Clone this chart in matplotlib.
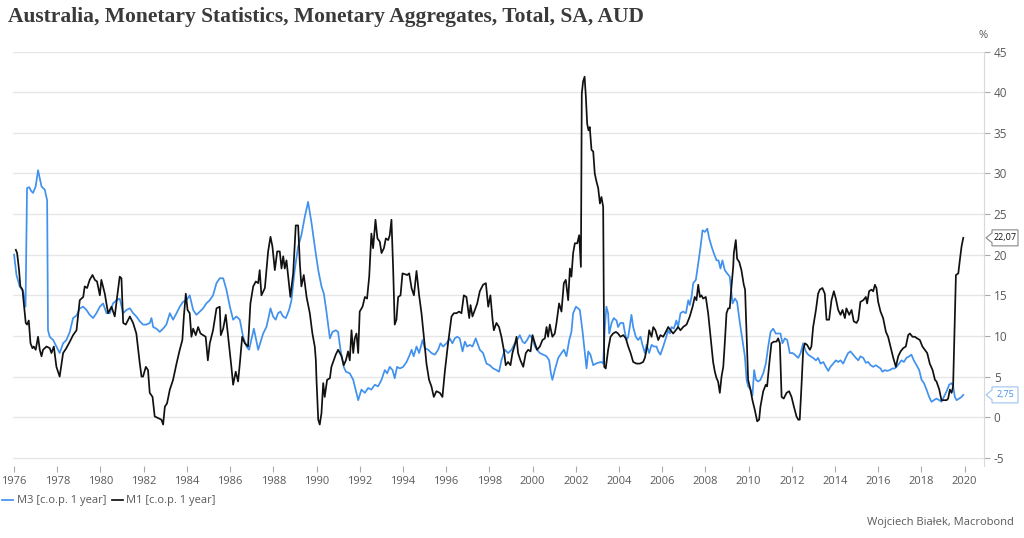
import matplotlib
matplotlib.use("Agg")
import matplotlib.pyplot as plt
from matplotlib.patches import Polygon
from matplotlib.transforms import blended_transform_factory

title = "Australia, Monetary Statistics, Monetary Aggregates, Total, SA, AUD"
m3_label = "M3 [c.o.p. 1 year]"
m1_label = "M1 [c.o.p. 1 year]"
credit = "Wojciech Białek, Macrobond"

m3_t = [1976.00, 1976.11, 1976.26, 1976.42, 1976.53, 1976.60, 1976.70, 1976.80, 1976.88, 1977.00,
        1977.11, 1977.27, 1977.42, 1977.53, 1977.57, 1977.65, 1977.81, 1977.96, 1978.11, 1978.27,
        1978.42, 1978.58, 1978.73, 1978.89, 1979.04, 1979.20, 1979.35, 1979.50, 1979.66, 1979.81,
        1979.97, 1980.12, 1980.28, 1980.43, 1980.58, 1980.74, 1980.89, 1981.05, 1981.20, 1981.36,
        1981.51, 1981.66, 1981.82, 1981.97, 1982.13, 1982.28, 1982.36, 1982.44, 1982.59, 1982.74,
        1982.90, 1983.05, 1983.21, 1983.36, 1983.52, 1983.67, 1983.82, 1983.98, 1984.13, 1984.29,
        1984.44, 1984.60, 1984.75, 1984.90, 1985.06, 1985.21, 1985.37, 1985.52, 1985.68, 1985.83,
        1985.99, 1986.14, 1986.29, 1986.45, 1986.60, 1986.76, 1986.88,
        1987.10, 1987.30, 1987.53, 1987.68, 1987.76, 1987.87, 1987.99, 1988.11, 1988.22, 1988.33,
        1988.45, 1988.58, 1988.73, 1988.84, 1988.99, 1989.15, 1989.30, 1989.46, 1989.61, 1989.77,
        1989.92, 1990.08, 1990.23, 1990.34, 1990.46, 1990.62, 1990.74, 1990.89, 1991.00, 1991.11,
        1991.26, 1991.36, 1991.54, 1991.70, 1991.85, 1991.93, 1992.08, 1992.24, 1992.39, 1992.54,
        1992.70, 1992.85, 1993.01, 1993.16, 1993.27, 1993.39, 1993.52, 1993.62, 1993.73, 1993.86,
        1994.01, 1994.17, 1994.32, 1994.40, 1994.50, 1994.63, 1994.75, 1994.91, 1995.01, 1995.17,
        1995.32, 1995.48, 1995.63, 1995.74, 1995.86, 1996.02, 1996.17, 1996.29, 1996.40, 1996.51,
        1996.63, 1996.76, 1996.87, 1996.97, 1997.10, 1997.22, 1997.37, 1997.56, 1997.71, 1997.87,
        1998.02, 1998.18, 1998.33, 1998.45, 1998.56, 1998.72, 1998.87, 1999.03, 1999.18, 1999.33,
        1999.41, 1999.54, 1999.64, 1999.75, 1999.87, 2000.00, 2000.11, 2000.21, 2000.34, 2000.49,
        2000.65, 2000.77, 2000.85, 2000.92, 2001.03, 2001.19, 2001.34, 2001.45, 2001.57, 2001.70,
        2001.80, 2001.88, 2002.01, 2002.11, 2002.19, 2002.31, 2002.39, 2002.50, 2002.58, 2002.68,
        2002.81, 2002.93, 2003.04, 2003.19, 2003.27, 2003.35, 2003.42, 2003.50, 2003.55, 2003.66,
        2003.76, 2003.89, 2003.96, 2004.07, 2004.20, 2004.27, 2004.35, 2004.43, 2004.50, 2004.58,
        2004.66, 2004.78, 2004.89, 2005.00, 2005.09, 2005.20, 2005.28, 2005.40, 2005.51, 2005.62,
        2005.74, 2005.82, 2005.92, 2006.05, 2006.17, 2006.28, 2006.36, 2006.43, 2006.54, 2006.66,
        2006.74, 2006.85, 2006.97, 2007.10, 2007.21, 2007.28, 2007.36, 2007.44, 2007.56, 2007.67,
        2007.78, 2007.87, 2007.98, 2008.09, 2008.18, 2008.29, 2008.39, 2008.52, 2008.61, 2008.70,
        2008.79, 2008.90, 2009.01, 2009.13, 2009.26, 2009.37, 2009.47, 2009.60, 2009.72, 2009.83,
        2009.91, 2009.98, 2010.09, 2010.18, 2010.26, 2010.34, 2010.45, 2010.55, 2010.68, 2010.80,
        2010.91, 2011.02, 2011.14, 2011.26, 2011.37, 2011.48, 2011.57, 2011.68, 2011.79, 2011.91,
        2012.04, 2012.14, 2012.30, 2012.41, 2012.53, 2012.65, 2012.76, 2012.87, 2012.99, 2013.12,
        2013.22, 2013.33, 2013.46, 2013.58, 2013.69, 2013.79, 2013.92, 2014.04, 2014.15, 2014.26,
        2014.38, 2014.50, 2014.61, 2014.72, 2014.84, 2014.97, 2015.08, 2015.18, 2015.31, 2015.43,
        2015.54, 2015.65, 2015.77, 2015.89, 2016.00, 2016.11, 2016.20, 2016.31, 2016.42, 2016.54,
        2016.66, 2016.77, 2016.85, 2016.97, 2017.08, 2017.19, 2017.31, 2017.44, 2017.54, 2017.65,
        2017.78, 2017.90, 2018.01, 2018.12, 2018.24, 2018.36, 2018.47, 2018.58, 2018.70, 2018.83,
        2018.93, 2019.04, 2019.17, 2019.29, 2019.40, 2019.47, 2019.55, 2019.63, 2019.75, 2019.86,
        2019.94]
m3_v = [20.0, 17.5, 16.1, 15.5, 13.6, 28.2, 28.3, 27.8, 27.6, 28.4,
        30.4, 28.4, 28.0, 26.7, 10.7, 9.9, 9.5, 8.7, 7.9, 9.1,
        9.5, 10.5, 12.2, 12.5, 13.4, 13.6, 13.2, 12.6, 12.2, 12.8,
        13.6, 14.0, 12.8, 12.8, 14.0, 14.4, 14.6, 12.8, 13.2, 13.4,
        12.8, 12.4, 11.8, 11.4, 11.4, 11.6, 12.2, 11.1, 10.9, 10.5,
        10.9, 11.4, 12.8, 12.0, 12.8, 13.6, 14.2, 14.4, 15.0, 13.2,
        12.6, 13.0, 13.4, 14.0, 14.4, 15.0, 16.5, 17.1, 17.1, 15.7,
        13.6, 12.0, 12.4, 12.0, 9.9, 8.7, 8.3,
        10.9, 8.3, 10.3, 11.1, 12.0, 13.4, 12.4, 12.0, 12.8, 13.0,
        12.4, 12.2, 13.2, 14.4, 18.1, 21.0, 22.4, 24.7, 26.5, 23.9,
        21.0, 18.1, 16.1, 15.2, 13.0, 9.7, 10.5, 10.7, 10.5, 8.3,
        6.2, 5.6, 5.4, 4.6, 3.0, 2.1, 3.4, 3.0, 3.6, 3.4,
        4.0, 3.8, 4.6, 5.8, 5.4, 6.2, 5.8, 4.8, 6.2, 6.0,
        6.2, 6.8, 7.7, 8.3, 7.5, 8.7, 7.9, 9.5, 8.5, 8.3,
        7.9, 7.7, 8.3, 9.1, 8.7, 9.1, 9.7, 9.1, 9.7, 9.9,
        9.7, 8.1, 9.3, 8.7, 8.9, 8.7, 9.7, 8.3, 7.9, 6.6,
        6.4, 6.0, 5.8, 5.6, 7.0, 8.3, 7.9, 8.3, 9.1, 9.7,
        10.1, 9.3, 9.1, 9.5, 10.1, 9.7, 8.7, 8.3, 7.9, 7.7,
        7.5, 7.0, 5.4, 4.6, 5.8, 7.3, 7.9, 8.3, 7.5, 9.5,
        10.5, 12.8, 13.6, 13.4, 13.2, 10.7, 8.7, 6.0, 8.1, 7.7,
        6.4, 6.6, 6.7, 6.8, 6.6, 11.1, 13.6, 12.8, 10.3, 11.6,
        12.2, 11.9, 11.1, 11.6, 11.6, 10.5, 9.5, 9.9, 11.1, 12.6,
        11.1, 9.9, 9.5, 9.9, 8.9, 7.9, 8.9, 7.9, 8.9, 8.7,
        8.7, 8.1, 7.7, 8.7, 9.7, 10.7, 10.3, 11.1, 10.9, 11.9,
        11.1, 12.8, 13.0, 12.8, 14.4, 13.8, 14.8, 16.5, 16.9, 18.9,
        21.0, 23.0, 22.8, 23.2, 22.0, 21.0, 20.2, 19.3, 19.3, 18.3,
        19.3, 18.1, 17.7, 17.3, 14.0, 14.6, 14.2, 11.6, 9.5, 7.5,
        4.6, 3.8, 3.4, 2.7, 5.8, 4.6, 4.4, 4.6, 5.4, 6.6,
        8.7, 10.5, 10.9, 10.3, 10.3, 10.3, 9.1, 9.7, 9.5, 7.9,
        7.9, 7.7, 7.3, 7.9, 9.1, 8.1, 7.7, 7.5, 7.3, 7.0,
        7.3, 6.6, 6.8, 6.2, 5.7, 6.2, 6.6, 7.0, 6.8, 7.0,
        6.6, 7.3, 7.9, 8.1, 7.7, 7.3, 7.0, 7.5, 7.3, 6.7,
        6.8, 6.4, 6.2, 6.4, 6.2, 6.0, 5.6, 5.8, 5.7, 5.8,
        6.0, 6.0, 6.2, 6.6, 7.0, 6.8, 7.3, 7.5, 7.7, 7.0,
        6.4, 5.8, 4.6, 4.2, 3.4, 2.5, 1.9, 2.1, 2.3, 2.1,
        1.9, 2.5, 3.2, 4.0, 4.2, 3.8, 2.5, 2.1, 2.3, 2.5,
        2.75]

m1_t = [1976.08, 1976.14, 1976.23, 1976.29, 1976.39, 1976.45, 1976.54, 1976.60, 1976.68, 1976.76,
        1976.85, 1976.91, 1977.00, 1977.11, 1977.19, 1977.27, 1977.34, 1977.50, 1977.65, 1977.73,
        1977.84, 1977.96, 1978.11, 1978.27, 1978.42, 1978.58, 1978.73, 1978.89, 1979.04, 1979.20,
        1979.27, 1979.38, 1979.50, 1979.63, 1979.74, 1979.84, 1979.97, 1980.04, 1980.20, 1980.35,
        1980.51, 1980.66, 1980.77, 1980.89, 1980.97, 1981.05, 1981.17, 1981.36, 1981.51, 1981.66,
        1981.82, 1981.90, 1981.97, 1982.10, 1982.20, 1982.28, 1982.41, 1982.51, 1982.67, 1982.82,
        1982.90, 1982.98, 1983.08, 1983.21, 1983.36, 1983.52, 1983.67, 1983.79, 1983.86, 1983.95,
        1984.03, 1984.13, 1984.21, 1984.29, 1984.41, 1984.52, 1984.63, 1984.75, 1984.87, 1984.97,
        1985.06, 1985.21, 1985.37, 1985.52, 1985.57, 1985.68, 1985.80, 1985.91, 1986.06, 1986.14,
        1986.26, 1986.37, 1986.45, 1986.56, 1986.68, 1986.83, 1986.94,
        1987.07, 1987.19, 1987.30, 1987.37, 1987.45, 1987.61, 1987.76, 1987.87, 1987.96, 1988.07,
        1988.18, 1988.30, 1988.38, 1988.46, 1988.53, 1988.61, 1988.69, 1988.79, 1988.92, 1989.04,
        1989.15, 1989.23, 1989.30, 1989.41, 1989.54, 1989.69, 1989.81, 1989.92, 1989.97, 1990.00,
        1990.08, 1990.15, 1990.23, 1990.31, 1990.38, 1990.49, 1990.62, 1990.69, 1990.77, 1990.89,
        1991.00, 1991.08, 1991.16, 1991.26, 1991.36, 1991.46, 1991.54, 1991.62, 1991.70, 1991.77,
        1991.85, 1991.93, 1992.00, 1992.13, 1992.24, 1992.34, 1992.44, 1992.54, 1992.62, 1992.73,
        1992.82, 1992.93, 1993.01, 1993.12, 1993.21, 1993.32, 1993.39, 1993.47, 1993.55, 1993.62,
        1993.70, 1993.78, 1993.89, 1993.98, 1994.09, 1994.20, 1994.29, 1994.40, 1994.51, 1994.63,
        1994.75, 1994.86, 1994.97, 1995.09, 1995.21, 1995.32, 1995.43, 1995.55, 1995.71, 1995.83,
        1995.94, 1996.09, 1996.25, 1996.36, 1996.48, 1996.60, 1996.71, 1996.82, 1996.94, 1997.07,
        1997.13, 1997.22, 1997.33, 1997.44, 1997.56, 1997.71, 1997.84, 1997.95, 1998.05, 1998.15,
        1998.21, 1998.33, 1998.45, 1998.56, 1998.67, 1998.76, 1998.87, 1998.98, 1999.07, 1999.18,
        1999.26, 1999.33, 1999.44, 1999.57, 1999.69, 1999.80, 1999.91, 2000.00, 2000.11, 2000.21,
        2000.34, 2000.46, 2000.57, 2000.65, 2000.72, 2000.80, 2000.92, 2001.03, 2001.11, 2001.23,
        2001.34, 2001.45, 2001.54, 2001.65, 2001.73, 2001.80, 2001.88, 2001.96, 2002.07, 2002.16,
        2002.24, 2002.28, 2002.34, 2002.41, 2002.47, 2002.53, 2002.59, 2002.65, 2002.73, 2002.81,
        2002.88, 2002.96, 2003.04, 2003.12, 2003.19, 2003.27, 2003.32, 2003.39, 2003.50, 2003.61,
        2003.73, 2003.86, 2003.96, 2004.07, 2004.20, 2004.32, 2004.43, 2004.54, 2004.66, 2004.81,
        2004.97, 2005.12, 2005.20, 2005.31, 2005.40, 2005.51, 2005.59, 2005.69, 2005.82, 2005.92,
        2006.05, 2006.17, 2006.28, 2006.39, 2006.51, 2006.63, 2006.74, 2006.85, 2006.97, 2007.13,
        2007.28, 2007.41, 2007.51, 2007.59, 2007.67, 2007.75, 2007.82, 2007.90, 2008.02, 2008.13,
        2008.21, 2008.29, 2008.36, 2008.44, 2008.52, 2008.59, 2008.67, 2008.75, 2008.83, 2008.90,
        2008.98, 2009.06, 2009.13, 2009.21, 2009.29, 2009.32, 2009.41, 2009.47, 2009.57, 2009.67,
        2009.78, 2009.84, 2009.91, 2009.98, 2010.09, 2010.18, 2010.29, 2010.40, 2010.49, 2010.55,
        2010.68, 2010.80, 2010.86, 2010.96, 2011.06, 2011.17, 2011.29, 2011.37, 2011.45, 2011.53,
        2011.63, 2011.76, 2011.88, 2011.99, 2012.10, 2012.22, 2012.30, 2012.37, 2012.45, 2012.53,
        2012.61, 2012.71, 2012.84, 2012.91, 2012.99, 2013.12, 2013.22, 2013.30, 2013.42, 2013.53,
        2013.61, 2013.73, 2013.84, 2013.95, 2014.04, 2014.15, 2014.26, 2014.35, 2014.46, 2014.53,
        2014.66, 2014.77, 2014.87, 2015.00, 2015.08, 2015.18, 2015.31, 2015.43, 2015.49, 2015.58,
        2015.69, 2015.77, 2015.85, 2015.92, 2016.00, 2016.11, 2016.23, 2016.36, 2016.46, 2016.57,
        2016.70, 2016.82, 2016.93, 2017.04, 2017.16, 2017.28, 2017.39, 2017.47, 2017.59, 2017.70,
        2017.81, 2017.93, 2018.05, 2018.16, 2018.27, 2018.39, 2018.52, 2018.63, 2018.70, 2018.83,
        2018.93, 2019.04, 2019.17, 2019.24, 2019.32, 2019.40, 2019.47, 2019.55, 2019.60, 2019.71,
        2019.78, 2019.86, 2019.94]
m1_v = [20.6, 20.2, 18.1, 16.1, 15.7, 14.0, 11.6, 11.4, 11.9, 9.1,
        8.5, 8.7, 8.3, 9.9, 8.3, 7.5, 8.3, 8.7, 8.5, 7.9,
        8.7, 6.2, 5.0, 7.9, 8.5, 9.3, 10.1, 10.7, 14.4, 14.8,
        16.1, 15.9, 16.9, 17.5, 16.9, 16.7, 15.0, 16.9, 15.2, 12.8,
        13.6, 12.4, 14.8, 17.3, 17.1, 11.6, 11.4, 12.4, 11.6, 10.3,
        6.6, 5.0, 5.0, 6.2, 5.8, 3.0, 2.5, 0.1, -0.1, -0.3,
        -0.9, 1.3, 1.7, 3.4, 4.6, 6.6, 8.3, 9.5, 12.4, 15.2,
        13.2, 12.8, 9.9, 10.9, 10.1, 11.1, 10.3, 10.1, 9.9, 7.0,
        9.1, 10.7, 13.4, 13.6, 10.1, 10.9, 12.6, 9.9, 6.2, 4.0,
        5.6, 4.4, 6.6, 9.9, 9.1, 8.7, 14.0,
        16.1, 16.7, 16.5, 18.1, 15.0, 15.9, 20.4, 22.2, 21.0, 18.1,
        20.4, 20.4, 18.3, 19.8, 18.3, 19.3, 17.3, 14.8, 17.7, 23.6,
        23.6, 18.9, 16.1, 17.5, 14.8, 12.8, 10.3, 8.7, 7.0, 4.6,
        -0.3, -0.9, 0.5, 4.2, 2.5, 4.6, 4.8, 6.2, 6.8, 7.7,
        8.3, 7.9, 7.5, 6.4, 7.0, 8.1, 7.0, 10.7, 7.9, 9.7,
        10.3, 7.9, 13.0, 13.6, 14.8, 14.6, 17.3, 22.6, 20.8, 24.3,
        22.0, 21.6, 20.2, 20.8, 22.0, 21.8, 22.4, 24.3, 18.1, 11.4,
        12.0, 14.8, 15.0, 17.7, 17.6, 17.5, 17.7, 15.9, 15.0, 18.0,
        15.0, 12.8, 9.9, 6.6, 4.6, 3.8, 2.5, 3.2, 3.0, 2.5,
        5.6, 9.1, 12.4, 12.8, 12.8, 13.0, 12.8, 15.0, 14.8, 12.2,
        13.8, 12.4, 13.2, 14.0, 15.5, 16.3, 16.5, 13.6, 15.0, 12.0,
        10.7, 11.6, 11.1, 9.9, 8.3, 6.4, 6.8, 6.4, 7.9, 8.9,
        9.9, 7.9, 7.0, 6.2, 7.9, 8.3, 8.1, 10.1, 9.1, 8.3,
        8.7, 9.5, 9.7, 11.1, 9.9, 11.4, 9.9, 10.3, 11.6, 14.0,
        13.0, 16.5, 16.9, 14.4, 18.3, 17.3, 20.2, 21.4, 21.4, 22.4,
        18.5, 39.8, 41.3, 41.9, 39.4, 36.1, 35.3, 35.7, 32.9, 32.7,
        30.0, 29.0, 28.2, 26.3, 27.1, 25.9, 6.2, 6.0, 8.3, 9.9,
        10.3, 10.5, 10.3, 9.9, 10.1, 9.7, 8.7, 7.9, 6.8, 6.6,
        6.6, 6.8, 7.3, 8.7, 10.7, 9.9, 11.1, 10.7, 9.5, 10.1,
        9.9, 10.5, 11.1, 10.7, 10.3, 10.7, 11.1, 10.7, 11.1, 11.4,
        12.4, 13.6, 14.8, 14.4, 16.3, 14.8, 15.0, 14.6, 14.8, 12.8,
        10.7, 8.7, 6.8, 5.6, 4.8, 4.4, 3.0, 5.0, 6.2, 9.1,
        12.8, 13.4, 13.4, 16.1, 18.5, 20.2, 21.8, 19.5, 19.1, 18.1,
        16.3, 15.7, 10.3, 4.6, 3.4, 2.1, 0.9, -0.5, -0.3, 1.3,
        3.2, 4.0, 3.8, 6.6, 9.1, 9.3, 9.3, 9.7, 9.1, 2.5,
        2.3, 3.0, 3.2, 2.5, 1.3, 0.1, -0.3, -0.3, 3.8, 8.3,
        9.1, 8.9, 8.3, 8.7, 11.1, 13.2, 15.2, 15.7, 15.9, 15.2,
        12.0, 12.0, 14.4, 15.5, 14.6, 13.2, 12.6, 13.2, 12.2, 13.4,
        12.6, 13.2, 11.8, 11.6, 12.0, 14.2, 14.4, 14.8, 14.0, 15.5,
        15.7, 15.5, 16.3, 15.9, 14.2, 13.0, 12.2, 10.5, 9.9, 8.7,
        7.3, 6.2, 7.5, 8.1, 8.5, 8.7, 10.1, 10.3, 9.9, 9.9,
        9.7, 9.5, 8.7, 8.3, 7.9, 6.6, 5.8, 4.6, 4.4, 3.4,
        2.1, 2.1, 2.1, 2.3, 3.4, 3.0, 3.8, 12.4, 17.5, 17.7,
        19.3, 21.0, 22.07]

x_ticks = list(range(1976, 2021, 2))
y_ticks = list(range(-5, 46, 5))

m3_color = "#4191ee"
m1_color = "#111111"
grid_color = "#e6e6e6"
text_color = "#595959"

plt.rcParams["font.family"] = ["Open Sans", "DejaVu Sans"]
plt.rcParams["axes.unicode_minus"] = False

fig = plt.figure(figsize=(10.24, 5.38), dpi=100)
ax = fig.add_axes([13 / 1024, 1 - 466 / 538, 971 / 1024, (466 - 51.5) / 538])

ax.plot(m3_t, m3_v, color=m3_color, lw=1.25, label=m3_label, zorder=3)
ax.plot(m1_t, m1_v, color=m1_color, lw=1.25, label=m1_label, zorder=4)

ax.set_xlim(1975.95, 2020.9)
ax.set_ylim(-6, 45)
ax.set_xticks(x_ticks)
ax.set_xticklabels([str(x) for x in x_ticks])
ax.set_yticks(y_ticks)
ax.yaxis.tick_right()
ax.grid(axis="y", color=grid_color, lw=1)
ax.set_axisbelow(True)
for s in ["top", "left", "bottom"]:
    ax.spines[s].set_visible(False)
ax.spines["right"].set_color("#d9d9d9")
ax.tick_params(axis="x", colors="#aaaaaa", labelcolor=text_color, labelsize=8, length=4, pad=3)
ax.tick_params(axis="y", colors="#aaaaaa", labelcolor=text_color, labelsize=8.5, length=4, pad=3)

fig.text(8 / 1024, 1 - 17 / 538, title, fontsize=15.5, fontweight="bold",
         family=["Liberation Serif"], color="#3a3a3a", va="center", ha="left")
fig.text(983 / 1024, 1 - 35 / 538, "%", fontsize=8, color=text_color, ha="center", va="center")
fig.text(1014 / 1024, 1 - 523 / 538, credit, fontsize=8, color=text_color, ha="right", va="center")

leg = fig.legend(loc="center left", bbox_to_anchor=(0.0, 1 - 501 / 538), ncol=2, frameon=False,
                 fontsize=8, handlelength=1.0, handletextpad=0.3, columnspacing=0.5,
                 borderaxespad=0.0, borderpad=0.2)
for t in leg.get_texts():
    t.set_color(text_color)

# value callouts on the right axis
trans = blended_transform_factory(ax.transAxes, ax.transData)
dpu = 51 / (466 - 51.5)  # data units per pixel
for val, col, edge in [(m1_v[-1], "#111111", "#888888"), (m3_v[-1], m3_color, "#9cc3f2")]:
    x0 = 1 + 2 / 971
    x1 = 1 + 8 / 971
    x2 = 1 + 34 / 971
    h = 8 * dpu
    poly = Polygon([[x0, val], [x1, val + h * 0.6], [x1, val + h], [x2, val + h],
                    [x2, val - h], [x1, val - h], [x1, val - h * 0.6]],
                   closed=True, transform=trans, facecolor="white", edgecolor=edge,
                   lw=0.8, clip_on=False, zorder=10)
    ax.add_patch(poly)
    ax.text((x1 + x2) / 2, val, f"{val:.2f}".replace(".", ","), transform=trans,
            fontsize=6.5, color=col, ha="center", va="center", zorder=11, clip_on=False)

fig.savefig("out.png", dpi=100, facecolor="white")
